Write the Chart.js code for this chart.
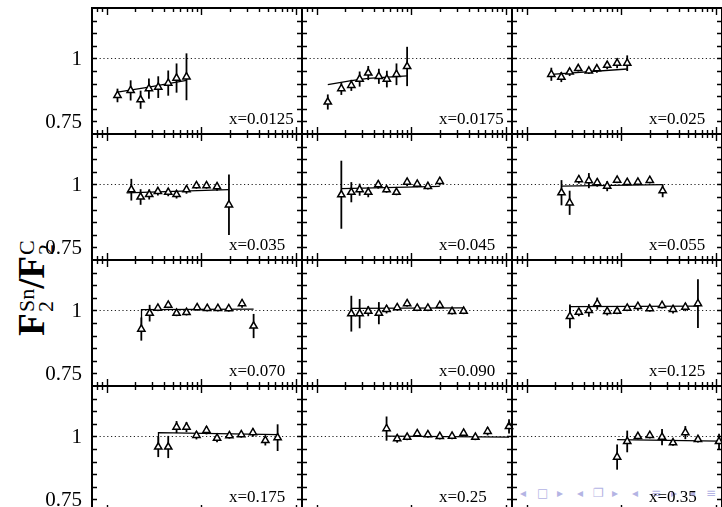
<!DOCTYPE html>
<html>
<head>
<meta charset="utf-8">
<script src="https://cdn.jsdelivr.net/npm/chart.js@4.4.0/dist/chart.umd.min.js"></script>
<style>
html, body { margin: 0; padding: 0; background: #fff; overflow: hidden; }
body { width: 722px; height: 507px; position: relative; }
canvas { position: absolute; }
#nav span { position: absolute; top: 486px; font: 12px "DejaVu Sans"; color: #b4b4e4; }
#ytitle {
    position: absolute; left: -38px; top: 266px; width: 140px; height: 44px;
    transform: rotate(-90deg); transform-origin: 70px 22px;
    font-family: "Liberation Serif"; font-size: 37px; font-weight: bold; color: #000;
    white-space: nowrap; text-align: center; line-height: 44px;
}
#ytitle .st { display: inline-block; vertical-align: middle; font-size: 22px; font-weight: normal; line-height: 19px; text-align: left; margin-left: 1px; }
#ytitle .st span { display: block; }
</style>
</head>
<body>
<div id="nav">
    <span style="left:520px">◂</span><span style="left:537px">□</span><span style="left:557px">▸</span>
    <span style="left:577px">◂</span><span style="left:593px">❐</span><span style="left:612px">▸</span>
    <span style="left:632px">◂</span><span style="left:651px">≡</span><span style="left:671px">▸</span>
    <span style="left:689px">◂</span><span style="left:706px">≡</span>
</div>
<div id="ytitle">F<span class="st"><span>Sn</span><span>2</span></span>/F<span class="st"><span>C</span><span>2</span></span></div>

<script>
// Axis setup
const xMin = 0.71;
const xMax = 115;
const yMin = 0.7;
const yMax = 1.2;
const yTickValues = [0.75, 1];
const yTickLabels = ['0.75', '1'];

// Bins in x (panel labels)
const xBins = ['0.0125', '0.0175', '0.025', '0.035', '0.045', '0.055', '0.070', '0.090', '0.125', '0.175', '0.25', '0.35'];

// x = 0.0125
const q2_0125 = [1.30, 1.79, 2.28, 2.79, 3.50, 4.46, 5.46, 6.95];
const r_0125 = [0.853, 0.873, 0.836, 0.880, 0.886, 0.902, 0.922, 0.927];
const e_0125 = [0.027, 0.040, 0.036, 0.040, 0.043, 0.050, 0.058, 0.093];
const fitQ2_0125 = [1.30, 2.79, 4.46, 6.95];
const fitR_0125 = [0.866, 0.886, 0.900, 0.913];

// x = 0.0175
const q2_0175 = [1.31, 1.82, 2.32, 2.84, 3.50, 4.53, 5.50, 6.95, 9.0];
const r_0175 = [0.827, 0.880, 0.893, 0.918, 0.942, 0.929, 0.918, 0.937, 0.968];
const e_0175 = [0.030, 0.025, 0.022, 0.030, 0.028, 0.030, 0.033, 0.043, 0.078];
const fitQ2_0175 = [1.31, 2.32, 3.50, 9.0];
const fitR_0175 = [0.896, 0.912, 0.921, 0.931];

// x = 0.025
const q2_025 = [1.82, 2.32, 2.84, 3.50, 4.53, 5.50, 7.07, 9.0, 11.5];
const r_025 = [0.937, 0.926, 0.946, 0.960, 0.950, 0.959, 0.973, 0.981, 0.981];
const e_025 = [0.026, 0.020, 0.016, 0.012, 0.012, 0.016, 0.016, 0.020, 0.031];
const fitQ2_025 = [1.82, 11.5];
const fitR_025 = [0.937, 0.958];

// x = 0.035
const q2_035 = [1.82, 2.28, 2.81, 3.47, 4.46, 5.46, 6.95, 8.85, 11.3, 14.6, 19.5];
const r_035 = [0.979, 0.950, 0.960, 0.972, 0.969, 0.960, 0.979, 0.995, 0.995, 0.991, 0.919];
const e_035 = [0.043, 0.031, 0.020, 0.016, 0.016, 0.016, 0.016, 0.012, 0.012, 0.016, 0.120];
const fitQ2_035 = [1.62, 19.5];
const fitR_035 = [0.966, 0.979];

// x = 0.045
const q2_045 = [1.82, 2.32, 2.84, 3.50, 4.46, 5.46, 6.95, 9.0, 11.5, 14.9, 19.9];
const r_045 = [0.959, 0.969, 0.979, 0.969, 0.999, 0.979, 0.969, 1.009, 1.001, 0.992, 1.012];
const e_045 = [0.135, 0.040, 0.024, 0.020, 0.016, 0.012, 0.012, 0.016, 0.012, 0.012, 0.016];
const fitQ2_045 = [1.82, 19.9];
const fitR_045 = [0.983, 0.992];

// x = 0.055
const q2_055 = [2.33, 2.84, 3.55, 4.53, 5.55, 7.07, 9.0, 11.5, 14.9, 19.9, 27.2];
const r_055 = [0.967, 0.927, 1.019, 1.015, 1.007, 0.993, 1.017, 1.008, 1.009, 1.016, 0.975];
const e_055 = [0.050, 0.048, 0.016, 0.030, 0.016, 0.020, 0.012, 0.012, 0.012, 0.012, 0.026];
const fitQ2_055 = [2.33, 27.2];
const fitR_055 = [0.993, 0.999];

// x = 0.070
const q2_070 = [2.32, 2.84, 3.47, 4.46, 5.46, 6.95, 9.0, 11.5, 14.9, 19.4, 26.8, 35.5];
const r_070 = [0.926, 0.989, 1.009, 1.021, 0.989, 0.992, 1.011, 1.008, 1.008, 1.007, 1.027, 0.938];
const e_070 = [0.046, 0.033, 0.012, 0.012, 0.012, 0.012, 0.012, 0.012, 0.012, 0.012, 0.016, 0.048];
const fitQ2_070 = [2.32, 2.33, 35.5];
const fitR_070 = [0.926, 1.003, 1.005];

// x = 0.090
const q2_090 = [2.32, 2.84, 3.50, 4.53, 5.46, 7.07, 9.0, 11.5, 14.9, 19.9, 26.8, 35.5];
const r_090 = [0.987, 0.987, 0.997, 0.989, 1.004, 1.011, 1.027, 1.009, 1.009, 1.020, 0.996, 0.997];
const e_090 = [0.071, 0.058, 0.020, 0.044, 0.016, 0.012, 0.012, 0.012, 0.012, 0.012, 0.012, 0.012];
const fitQ2_090 = [2.32, 2.33, 35.5];
const fitR_090 = [0.987, 1.008, 1.010];

// x = 0.125
const q2_125 = [2.86, 3.55, 4.53, 5.55, 7.07, 9.0, 11.5, 14.9, 19.9, 26.8, 35.0, 47.2, 64.1];
const r_125 = [0.976, 0.993, 1.000, 1.027, 0.996, 0.997, 1.009, 1.016, 1.007, 1.020, 1.004, 1.013, 1.027];
const e_125 = [0.047, 0.016, 0.025, 0.024, 0.016, 0.012, 0.012, 0.016, 0.012, 0.012, 0.016, 0.016, 0.097];
const fitQ2_125 = [2.86, 2.88, 64.1];
const fitR_125 = [0.976, 1.015, 1.017];

// x = 0.175
const q2_175 = [3.50, 4.46, 5.46, 6.95, 8.85, 11.3, 14.6, 19.7, 26.3, 34.9, 47.2, 63.6];
const r_175 = [0.958, 0.958, 1.037, 1.037, 1.004, 1.024, 0.993, 1.003, 1.007, 1.015, 0.984, 0.995];
const e_175 = [0.040, 0.044, 0.024, 0.020, 0.016, 0.016, 0.016, 0.012, 0.012, 0.016, 0.020, 0.053];
const fitQ2_175 = [3.50, 3.52, 63.6];
const fitR_175 = [0.958, 1.015, 1.007];

// x = 0.25
const q2_25 = [5.46, 7.07, 9.0, 11.5, 14.9, 19.9, 26.8, 35.5, 47.2, 63.6, 107];
const r_25 = [1.031, 0.991, 0.997, 1.011, 1.007, 1.000, 1.001, 1.013, 0.997, 1.020, 1.040];
const e_25 = [0.048, 0.016, 0.012, 0.012, 0.012, 0.012, 0.012, 0.012, 0.012, 0.016, 0.028];
const fitQ2_25 = [5.46, 107];
const fitR_25 = [1.001, 0.997];

// x = 0.35
const q2_35 = [9.0, 11.5, 14.9, 19.9, 26.8, 35.0, 47.2, 64.1, 107];
const r_35 = [0.918, 0.980, 1.000, 1.004, 0.997, 0.975, 1.015, 0.988, 0.980];
const e_35 = [0.050, 0.043, 0.012, 0.012, 0.032, 0.012, 0.026, 0.012, 0.031];
const fitQ2_35 = [9.0, 107];
const fitR_35 = [0.987, 0.981];

const allQ2 = [q2_0125, q2_0175, q2_025, q2_035, q2_045, q2_055, q2_070, q2_090, q2_125, q2_175, q2_25, q2_35];
const allR = [r_0125, r_0175, r_025, r_035, r_045, r_055, r_070, r_090, r_125, r_175, r_25, r_35];
const allE = [e_0125, e_0175, e_025, e_035, e_045, e_055, e_070, e_090, e_125, e_175, e_25, e_35];
const allFitQ2 = [fitQ2_0125, fitQ2_0175, fitQ2_025, fitQ2_035, fitQ2_045, fitQ2_055, fitQ2_070, fitQ2_090, fitQ2_125, fitQ2_175, fitQ2_25, fitQ2_35];
const allFitR = [fitR_0125, fitR_0175, fitR_025, fitR_035, fitR_045, fitR_055, fitR_070, fitR_090, fitR_125, fitR_175, fitR_25, fitR_35];

// Layout
const GRID_LEFT = 92;
const GRID_TOP = 8;
const PW = 210;
const PH = 126;
const PAD = 10;

// Decorations: dotted line at 1, error bars, frame, inner ticks, labels
const panelDeco = {
    id: 'panelDeco',
    beforeDatasetsDraw(chart, args, opts) {
        const ctx = chart.ctx;
        const xs = chart.scales.x, ys = chart.scales.y;
        const a = chart.chartArea;
        ctx.save();
        // dotted unity line
        ctx.strokeStyle = '#222';
        ctx.lineWidth = 1;
        ctx.setLineDash([1.2, 2.6]);
        const y1 = Math.round(ys.getPixelForValue(1)) + 0.5;
        ctx.beginPath();
        ctx.moveTo(a.left, y1);
        ctx.lineTo(a.right, y1);
        ctx.stroke();
        ctx.setLineDash([]);
        // error bars
        ctx.strokeStyle = '#000';
        ctx.lineWidth = 1.8;
        opts.q2.forEach((q, i) => {
            const px = xs.getPixelForValue(q);
            ctx.beginPath();
            ctx.moveTo(px, ys.getPixelForValue(opts.r[i] - opts.e[i]));
            ctx.lineTo(px, ys.getPixelForValue(opts.r[i] + opts.e[i]));
            ctx.stroke();
        });
        ctx.restore();
    },
    afterDraw(chart, args, opts) {
        const ctx = chart.ctx;
        const xs = chart.scales.x, ys = chart.scales.y;
        const a = chart.chartArea;
        ctx.save();
        ctx.strokeStyle = '#000';
        // inner ticks on left / right
        ctx.lineWidth = 1.4;
        for (let v = yMin + 0.05; v < yMax - 0.01; v += 0.05) {
            const py = Math.round(ys.getPixelForValue(v)) + 0.5;
            ctx.beginPath();
            ctx.moveTo(a.left, py); ctx.lineTo(a.left + 5, py);
            ctx.moveTo(a.right, py); ctx.lineTo(a.right - 5, py);
            ctx.stroke();
        }
        // log ticks on top / bottom
        for (let k = -1; k <= 2; k++) {
            for (let d = 1; d <= 9; d++) {
                const v = d * Math.pow(10, k);
                if (v <= xMin || v >= xMax) continue;
                const px = Math.round(xs.getPixelForValue(v)) + 0.5;
                const len = d === 1 ? 7 : 4;
                ctx.beginPath();
                ctx.moveTo(px, a.top); ctx.lineTo(px, a.top + len);
                ctx.moveTo(px, a.bottom); ctx.lineTo(px, a.bottom - len);
                ctx.stroke();
            }
        }
        // frame
        ctx.lineWidth = 2;
        ctx.strokeRect(a.left, a.top, a.right - a.left, a.bottom - a.top);
        // bin label
        ctx.fillStyle = '#000';
        ctx.font = '17px "Liberation Serif"';
        ctx.textAlign = 'left';
        ctx.textBaseline = 'alphabetic';
        ctx.fillText('x=' + opts.label, a.left + 137, a.bottom - 10);
        // y tick labels on the left column
        if (opts.showY) {
            ctx.font = '21px "Liberation Serif"';
            ctx.textAlign = 'right';
            ctx.textBaseline = 'middle';
            yTickValues.forEach((v, i) => {
                ctx.fillText(yTickLabels[i], a.left - 10, ys.getPixelForValue(v) + 1);
            });
        }
        ctx.restore();
    }
};

xBins.forEach((label, i) => {
    const col = i % 3, row = Math.floor(i / 3);
    const canvas = document.createElement('canvas');
    const left = col === 0 ? 0 : GRID_LEFT + col * PW - PAD;
    const width = col === 0 ? GRID_LEFT + PW + PAD : PW + 2 * PAD;
    const top = GRID_TOP + row * PH - PAD;
    const height = PH + 2 * PAD;
    canvas.width = width;
    canvas.height = height;
    canvas.style.left = left + 'px';
    canvas.style.top = top + 'px';
    document.body.appendChild(canvas);

    const points = allQ2[i].map((q, j) => ({ x: q, y: allR[i][j] }));
    const fit = allFitQ2[i].map((q, j) => ({ x: q, y: allFitR[i][j] }));

    new Chart(canvas.getContext('2d'), {
        type: 'scatter',
        data: {
            datasets: [
                {
                    type: 'line',
                    data: fit,
                    borderColor: '#000',
                    borderWidth: 1.3,
                    pointRadius: 0,
                    fill: false,
                    tension: 0,
                    clip: 4,
                    order: 2
                },
                {
                    data: points,
                    pointStyle: 'triangle',
                    pointRadius: 4.2,
                    backgroundColor: '#fff',
                    borderColor: '#000',
                    borderWidth: 1.5,
                    clip: 8,
                    order: 1
                }
            ]
        },
        options: {
            responsive: false,
            animation: false,
            devicePixelRatio: 1,
            events: [],
            layout: {
                padding: { left: col === 0 ? GRID_LEFT : PAD, right: PAD, top: PAD, bottom: PAD }
            },
            scales: {
                x: { type: 'logarithmic', min: xMin, max: xMax, display: false },
                y: { type: 'linear', min: yMin, max: yMax, display: false }
            },
            plugins: {
                legend: { display: false },
                tooltip: { enabled: false },
                panelDeco: {
                    label: label,
                    q2: allQ2[i],
                    r: allR[i],
                    e: allE[i],
                    showY: col === 0
                }
            }
        },
        plugins: [panelDeco]
    });
});
</script>
</body>
</html>
